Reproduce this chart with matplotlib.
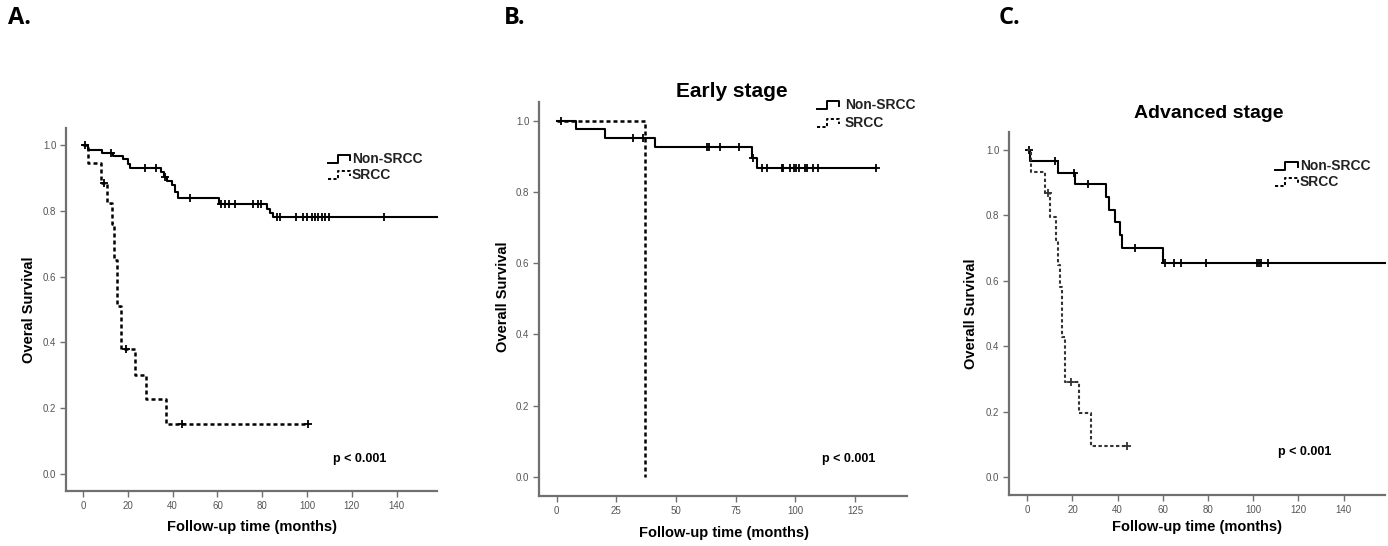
import matplotlib
matplotlib.use("Agg")
import matplotlib.pyplot as plt
from matplotlib.ticker import FormatStrFormatter

# ---------------- data ----------------
# Panel A (all stages)
A_non_times = [2, 8.5, 13.5, 18, 20, 21, 35, 36, 37.5, 39.5, 41, 42.5, 60.5, 82, 83.5, 85]
A_non_surv = [0.985, 0.977, 0.967, 0.957, 0.943, 0.929, 0.917, 0.904, 0.892, 0.878, 0.858, 0.838,
              0.821, 0.806, 0.794, 0.782]
A_non_censor = [1, 12.4, 27.5, 32.5, 36.7, 47.8, 61.5, 63.5, 65, 68, 76, 78, 79.5, 86.5, 88, 95, 98,
                100, 102, 103.5, 105, 106.5, 108, 110, 134.3]
A_non_end = 158
A_src_times = [2, 8, 10.5, 13, 14, 15.3, 17, 23, 28, 37]
A_src_surv = [0.947, 0.886, 0.823, 0.76, 0.65, 0.51, 0.38, 0.30, 0.227, 0.152]
A_src_censor = [9.2, 19.4, 44, 100.5]
A_src_end = 100.5

# Panel B (early stage)
B_non_times = [8, 20.3, 41, 81.7, 83.8]
B_non_surv = [0.976, 0.952, 0.927, 0.897, 0.868]
B_non_censor = [1.7, 32.1, 36.3, 63.1, 63.8, 68.2, 76.4, 82.4, 86.2, 88, 94.3, 95, 97.8, 99.2, 100.3,
                101.3, 104, 104.7, 107.5, 109.6, 133.8]
B_non_end = 133.8
B_src_times = [37]
B_src_surv = [0.0]
B_src_censor = []
B_src_end = 37

# Panel C (advanced stage)
C_non_times = [1.2, 13.5, 21, 35, 36, 39, 41, 42, 60]
C_non_surv = [0.966, 0.931, 0.897, 0.857, 0.817, 0.779, 0.740, 0.700, 0.656]
C_non_censor = [0.6, 12.3, 20.8, 27, 47.7, 61, 65, 67.9, 79.1, 101.8, 102.6, 103.4, 106.4]
C_non_end = 158.3
C_src_times = [1.5, 8, 10, 12.7, 13.5, 14.5, 15.2, 16.7, 23, 28]
C_src_surv = [0.934, 0.868, 0.796, 0.725, 0.65, 0.58, 0.43, 0.29, 0.195, 0.097]
C_src_censor = [9.3, 19.3, 44.3]
C_src_end = 44.3

labels = ["Non-SRCC", "SRCC"]
A_xticks = [0, 20, 40, 60, 80, 100, 120, 140]
B_xticks = [0, 25, 50, 75, 100, 125]
C_xticks = [0, 20, 40, 60, 80, 100, 120, 140]
yticks = [0.0, 0.2, 0.4, 0.6, 0.8, 1.0]

FONT = ["Liberation Sans", "DejaVu Sans"]
plt.rcParams["font.family"] = FONT

W, H = 1388, 546
fig = plt.figure(figsize=(W / 100, H / 100), dpi=100)


def surv_at(t, times, surv):
    s = 1.0
    for ti, si in zip(times, surv):
        if ti <= t:
            s = si
    return s


def km(ax, times, surv, end, censor, dashed=False, color="black", lw=1.5):
    xs = [0] + list(times)
    ys = [1.0] + list(surv)
    if end > xs[-1]:
        xs.append(end)
        ys.append(ys[-1])
    ls = (0, (1.6, 1.2)) if dashed else "-"
    ax.step(xs, ys, where="post", color=color, lw=lw, linestyle=ls, clip_on=False)
    cy = [surv_at(c, times, surv) for c in censor]
    ax.plot(censor, cy, linestyle="none", marker="+", ms=6, mew=1.3, color=color, clip_on=False)


def panel(px, xlim, ylim, xticks, ylabel):
    l, r, t, b = px
    ax = fig.add_axes([l / W, (H - b) / H, (r - l) / W, (b - t) / H])
    ax.set_xlim(*xlim)
    ax.set_ylim(*ylim)
    for s in ["top", "right"]:
        ax.spines[s].set_visible(False)
    for s in ["left", "bottom"]:
        ax.spines[s].set_color("#707070")
        ax.spines[s].set_linewidth(1.6)
    ax.set_xticks(xticks)
    ax.set_yticks(yticks)
    ax.yaxis.set_major_formatter(FormatStrFormatter("%.1f"))
    ax.tick_params(axis="both", direction="out", length=4, width=1, color="#707070",
                   labelsize=7, labelcolor="#555555", pad=3)
    ax.set_xlabel("Follow-up time (months)", fontsize=10.5, fontweight="bold", va="center")
    ax.set_ylabel(ylabel, fontsize=10.5, fontweight="bold", va="center")
    return ax


def legend(ax, px, icon_x0, icon_x1, text_x, rows_y):
    l, r, t, b = px
    aw, ah = r - l, b - t
    h = 8 / ah
    for i, (lab, y) in enumerate(zip(labels, rows_y)):
        x0 = (icon_x0 - l) / aw
        x1 = (icon_x1 - l) / aw
        xm = x0 + 0.45 * (x1 - x0)
        yc = (b - y) / ah
        xs = [x0, xm, xm, x1, x1]
        ys = [yc - h / 2, yc - h / 2, yc + h / 2, yc + h / 2, yc - h / 6]
        ls = (0, (1.6, 1.2)) if i == 1 else "-"
        ax.plot(xs, ys, transform=ax.transAxes, color="black", lw=1.4, linestyle=ls, clip_on=False)
        ax.text((text_x - l) / aw, yc, lab, transform=ax.transAxes, fontsize=10,
                fontweight="bold", color="#222222", ha="left", va="center")


# ---- Panel A ----
pxA = (66, 437, 128, 491)
axA = panel(pxA, (-7.6, 158), (-0.052, 1.052), A_xticks, "Overal Survival")
km(axA, A_non_times, A_non_surv, A_non_end, A_non_censor)
km(axA, A_src_times, A_src_surv, A_src_end, A_src_censor, dashed=True, lw=1.8)
axA.xaxis.set_label_coords(0.5, -0.099)
axA.yaxis.set_label_coords(-0.10, 0.5)
legend(axA, pxA, 328, 350, 352, [158.5, 175])
axA.text(123.7, 0.046, "p < 0.001", fontsize=9, fontweight="bold", ha="center", va="center")

# ---- Panel B ----
pxB = (539, 906.7, 102, 496)
axB = panel(pxB, (-7.4, 146.6), (-0.054, 1.053), B_xticks, "Overall Survival")
km(axB, B_non_times, B_non_surv, B_non_end, B_non_censor)
km(axB, B_src_times, B_src_surv, B_src_end, B_src_censor, dashed=True, lw=1.8)
axB.xaxis.set_label_coords(0.502, -0.094)
axB.yaxis.set_label_coords(-0.098, 0.506)
legend(axB, pxB, 817, 839, 845, [105, 123])
axB.text(122.5, 0.049, "p < 0.001", fontsize=9, fontweight="bold", ha="center", va="center")

# ---- Panel C ----
pxC = (1009, 1385, 132, 495)
axC = panel(pxC, (-8.1, 158.3), (-0.054, 1.055), C_xticks, "Overall Survival")
km(axC, C_non_times, C_non_surv, C_non_end, C_non_censor)
km(axC, C_src_times, C_src_surv, C_src_end, C_src_censor, dashed=True, color="#333333", lw=1.5)
axC.xaxis.set_label_coords(0.5, -0.088)
axC.yaxis.set_label_coords(-0.10, 0.499)
legend(axC, pxC, 1275, 1298, 1300, [166, 181.7])
axC.text(122.9, 0.078, "p < 0.001", fontsize=9, fontweight="bold", ha="center", va="center")

# ---- titles and panel letters ----
fig.text(731.7 / W, 1 - 91.7 / H, "Early stage", fontsize=15, fontweight="bold", ha="center", va="center")
fig.text(1208.3 / W, 1 - 113.3 / H, "Advanced stage", fontsize=14, fontweight="bold", ha="center", va="center")
for lab, x in [("A.", 20), ("B.", 515), ("C.", 1010)]:
    fig.text(x / W, 1 - 18 / H, lab, fontsize=17, fontweight="bold", ha="center", va="center",
             family=["Open Sans", "DejaVu Sans"])

fig.savefig("out.png", dpi=100)
